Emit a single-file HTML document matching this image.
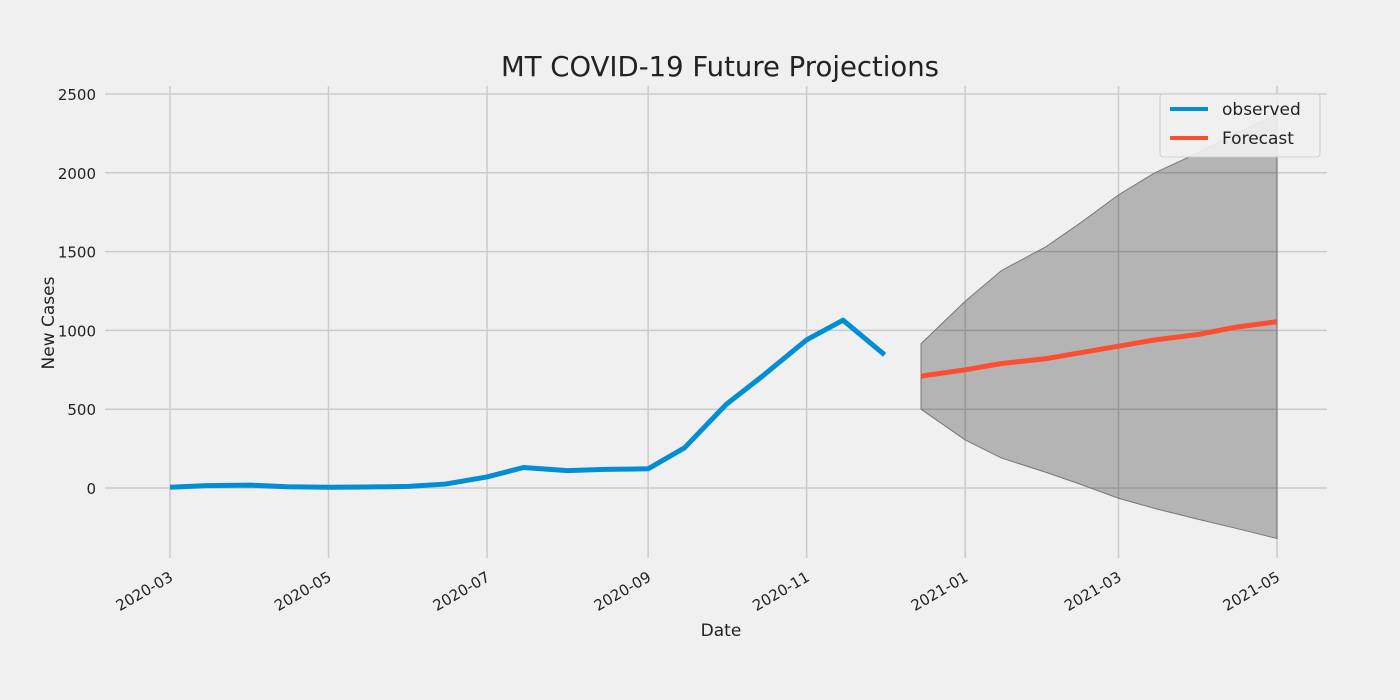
<!DOCTYPE html>
<html><head><meta charset="utf-8"><style>
body{margin:0;background:#f0f0f0;}
svg{display:block;font-family:"DejaVu Sans","Liberation Sans",sans-serif;}
</style></head><body>
<svg id="chart" width="1400" height="700">
<rect width="1400" height="700" fill="#f0f0f0"/>
<g id="grid"></g><g id="ci"></g><g id="lines"></g><g id="ticks"></g>
<text x="720" y="76" font-size="27.5" text-anchor="middle" fill="#222">MT COVID-19 Future Projections</text>
<text x="721" y="636" font-size="17" text-anchor="middle" fill="#222">Date</text>
<text transform="translate(54,323) rotate(-90)" font-size="17" text-anchor="middle" fill="#222">New Cases</text>
<g>
<rect x="1160" y="94" width="160" height="63" rx="3" fill="#f0f0f0" stroke="#ccc" opacity="0.9"/>
<line x1="1170" y1="109" x2="1208" y2="109" stroke="#008fd5" stroke-width="4"/>
<text x="1222" y="115" font-size="17" fill="#222">observed</text>
<line x1="1170" y1="138" x2="1208" y2="138" stroke="#fc4f30" stroke-width="4"/>
<text x="1222" y="144" font-size="17" fill="#222">Forecast</text>
</g>
</svg>
<script>
const obsDates=["2020-03-01","2020-03-15","2020-04-01","2020-04-15","2020-05-01","2020-05-15","2020-06-01","2020-06-15","2020-07-01","2020-07-15","2020-08-01","2020-08-15","2020-09-01","2020-09-15","2020-10-01","2020-10-15","2020-11-01","2020-11-15","2020-12-01"];
const obsValues=[5,15,18,8,5,6,10,25,70,130,110,118,122,255,530,710,940,1065,845];
const fcDates=["2020-12-15","2021-01-01","2021-01-15","2021-02-01","2021-02-15","2021-03-01","2021-03-15","2021-04-01","2021-04-15","2021-05-01"];
const fcValues=[710,750,790,820,860,900,940,975,1020,1055];
const fcLower=[500,305,190,100,20,-65,-130,-200,-255,-320];
const fcUpper=[915,1185,1380,1530,1690,1860,2000,2130,2250,2370];
const yTicks=[0,500,1000,1500,2000,2500];
const xTicks=["2020-03-01","2020-05-01","2020-07-01","2020-09-01","2020-11-01","2021-01-01","2021-03-01","2021-05-01"];
const xTickLabels=["2020-03","2020-05","2020-07","2020-09","2020-11","2021-01","2021-03","2021-05"];
const NS="http://www.w3.org/2000/svg";
const t0=Date.UTC(2020,2,1);
function days(s){const p=s.split('-');return (Date.UTC(+p[0],+p[1]-1,+p[2])-t0)/864e5;}
function X(s){return 170+days(s)*(1277-170)/426;}
function Y(v){return 488-v*(488-94)/2500;}
function el(tag,attrs,parent){const e=document.createElementNS(NS,tag);for(const k in attrs)e.setAttribute(k,attrs[k]);parent.appendChild(e);return e;}
const grid=document.getElementById('grid'),ticks=document.getElementById('ticks');
yTicks.forEach(v=>{
 const l=el('line',{x1:105,x2:1327,y1:Y(v),y2:Y(v),stroke:'#cbcbcb','stroke-width':1.5},grid);
 
 
 const t=el('text',{x:96,y:Y(v)+6,'font-size':15,'text-anchor':'end',fill:'#222'},ticks);
 t.textContent=v;
 
 
});
xTicks.forEach((d,i)=>{
 const x=X(d);
 const l=el('line',{x1:x,x2:x,y1:86,y2:558,stroke:'#cbcbcb','stroke-width':1.5},grid);
 
 
 const t=el('text',{transform:`translate(${x+4},${580}) rotate(-30)`,'font-size':15,'text-anchor':'end',fill:'#222'},ticks);
 t.textContent=xTickLabels[i];
 
 
});
let pts=fcDates.map((d,i)=>X(d)+','+Y(fcUpper[i]));
for(let i=fcDates.length-1;i>=0;i--)pts.push(X(fcDates[i])+','+Y(fcLower[i]));
const band=el('polygon',{points:pts.join(' '),fill:'#000','fill-opacity':0.25,stroke:'#777','stroke-width':1},document.getElementById('ci'));


const lines=document.getElementById('lines');
const o=el('polyline',{points:obsDates.map((d,i)=>X(d)+','+Y(obsValues[i])).join(' '),fill:'none',stroke:'#008fd5','stroke-width':5,'stroke-linejoin':'round'},lines);


const f=el('polyline',{points:fcDates.map((d,i)=>X(d)+','+Y(fcValues[i])).join(' '),fill:'none',stroke:'#fc4f30','stroke-width':5,'stroke-linejoin':'round'},lines);


</script>
</body></html>
